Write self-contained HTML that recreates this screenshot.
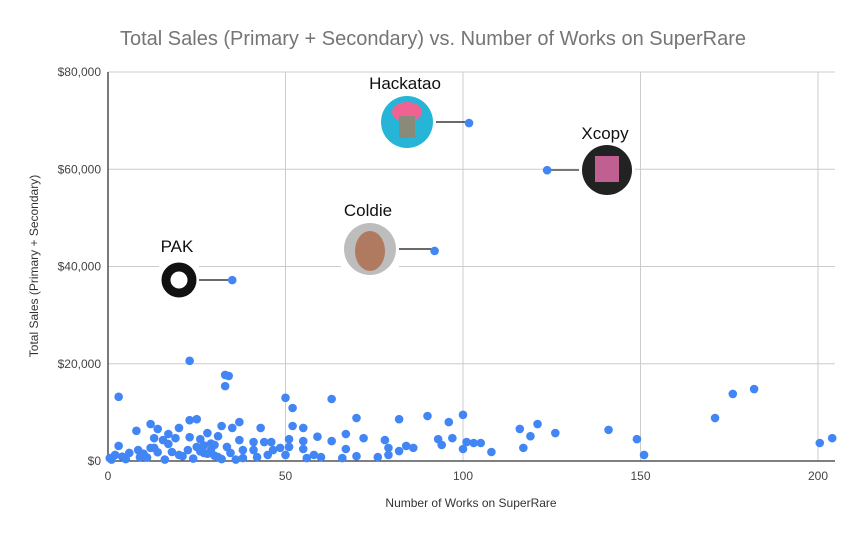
<!DOCTYPE html>
<html><head><meta charset="utf-8"><style>
body{margin:0;background:#fff;font-family:"Liberation Sans",sans-serif;}
svg text{font-family:"Liberation Sans",sans-serif;}
</style></head><body>
<svg id="chart" width="865" height="535" xmlns="http://www.w3.org/2000/svg">
<rect width="865" height="535" fill="#fff"/>
<text x="433" y="45" text-anchor="middle" font-size="20" fill="#757575">Total Sales (Primary + Secondary) vs. Number of Works on SuperRare</text>
<g id="grid"></g>
<g id="axes"></g>
<g id="annot"></g>
<g id="points"></g>
<text x="471" y="507" text-anchor="middle" font-size="12" fill="#333">Number of Works on SuperRare</text>
<text transform="translate(38,266) rotate(-90)" text-anchor="middle" font-size="12" fill="#333">Total Sales (Primary + Secondary)</text>
</svg>
<script>
const xTicks=[0,50,100,150,200];
const yTicks=[0,20000,40000,60000,80000];
const yTickLabels=["$0","$20,000","$40,000","$60,000","$80,000"];
const worksX=[35,92,101.7,123.7,
67,67,66,70,70,72,76,78,79,79,82,82,84,86,90,93,94,96,97,100,100,101,103,105,108,116,117,119,121,126,141,149,151,171,176,182,200.5,204,
23,33,34,33,3,50,52,63,12,20,23,25,37,32,35,43,52,55,8,14,17,19,13,15.5,23,26,28,31,37,41,44,46,51,59,63,55,55,3,
2,6,8.5,12,14,18,20,22.5,25,27,29,31,33.5,34.5,38,38,41,42,45,46.5,48.5,50,51,56,58,60,0.5,1,4,5,10,11,16,21,24,26,28,30,32,36,9,13,17,27,29,30];
const salesY=[37200,43200,69500,59800,
5550,2470,600,8840,1000,4700,800,4300,2700,1250,8600,2050,3100,2700,9250,4500,3300,8000,4700,9500,2470,3900,3700,3700,1850,6600,2700,5100,7600,5750,6400,4500,1250,8840,13800,14800,3700,4700,
20600,17700,17500,15400,13200,13000,10900,12750,7600,6800,8400,8600,8000,7200,6800,6800,7200,6800,6200,6600,5550,4700,4700,4300,4900,4500,5750,5100,4300,3900,3900,3900,4500,5000,4100,4100,2470,3100,
1250,1650,2250,2700,1800,1850,1250,2250,2900,1650,2200,800,2900,1650,2250,600,2250,800,1250,2250,2700,1250,2900,600,1250,800,600,300,900,400,1500,700,300,1000,500,2000,1500,1100,400,300,800,2700,3500,3200,3600,3300];
const NS="http://www.w3.org/2000/svg";
const X0=108,XS=3.55,Y0=461,YS=389/80000,XR=835;
const sx=v=>X0+v*XS, sy=v=>Y0-v*YS;
function mk(t,a,p){const e=document.createElementNS(NS,t);for(const k in a)e.setAttribute(k,a[k]);p.appendChild(e);return e;}
const grid=document.getElementById('grid'),axes=document.getElementById('axes'),pts=document.getElementById('points'),ann=document.getElementById('annot');
yTicks.forEach((v,i)=>{
 if(i>0){const l=mk('line',{x1:X0,x2:XR,y1:sy(v),y2:sy(v),stroke:'#cccccc','stroke-width':1},grid);
 
 }
 const t=mk('text',{x:X0-7,y:sy(v)+4,'text-anchor':'end','font-size':12,fill:'#444'},axes);t.textContent=yTickLabels[i];
 
 
});
xTicks.forEach(v=>{
 if(v>0){const l=mk('line',{x1:sx(v),x2:sx(v),y1:sy(80000),y2:Y0,stroke:'#cccccc','stroke-width':1},grid);
 
 }
 const t=mk('text',{x:sx(v),y:Y0+19,'text-anchor':'middle','font-size':12,fill:'#444'},axes);t.textContent=v;
 
 
});
const xa=mk('line',{x1:X0,x2:XR,y1:Y0,y2:Y0,stroke:'#333','stroke-width':1.3},axes);


const ya=mk('line',{x1:X0,x2:X0,y1:sy(80000),y2:Y0,stroke:'#333','stroke-width':1.3},axes);


worksX.forEach((v,i)=>{
 const c=mk('circle',{cx:sx(v),cy:sy(salesY[i]),r:4.3,fill:'#4285f4'},pts);
 
 
});
const anns=[["PAK",179,280,17,252,"#fff",true,232],["Coldie",370,249,26,216,"#bdbdbd",false,434],["Hackatao",407,122,26,89,"#26b5d6",false,469],["Xcopy",607,170,25,139,"#222",false,548]];
anns.forEach(a=>{
 const [nm,cx,cy,r,ly,fill,ring,dx]=a;
 const ln=mk('line',{x1:cx+r,x2:dx,y1:cy,y2:cy,stroke:nm==="Xcopy"?'#777':'#111','stroke-width':nm==="Xcopy"?2:1.2},ann);
 
 
 const bg=mk('rect',{x:cx-r-3,y:cy-r-3,width:2*r+6,height:2*r+6,fill:'#fff'},ann);
 
 
 const c=mk('circle',{cx:cx,cy:cy,r:ring?r-4:r,fill:ring?'#fff':fill,stroke:ring?'#111':'none','stroke-width':ring?9:0},ann);
 
 
 if(nm==="Hackatao"){const h=mk('ellipse',{cx:cx,cy:cy-10,rx:15,ry:10,fill:'#f06292'},ann);
  const f=mk('rect',{x:cx-8,y:cy-6,width:16,height:22,fill:'#8a8a7a'},ann);}
 if(nm==="Xcopy"){const f=mk('rect',{x:cx-12,y:cy-14,width:24,height:26,fill:'#c06090'},ann);}
 if(nm==="Coldie"){const f=mk('ellipse',{cx:cx,cy:cy+2,rx:15,ry:20,fill:'#b07a60'},ann);}
 const t=mk('text',{x:cx-2,y:ly,'text-anchor':'middle','font-size':17,fill:'#111'},ann);t.textContent=nm;
 
 
});
</script>
</body></html>
